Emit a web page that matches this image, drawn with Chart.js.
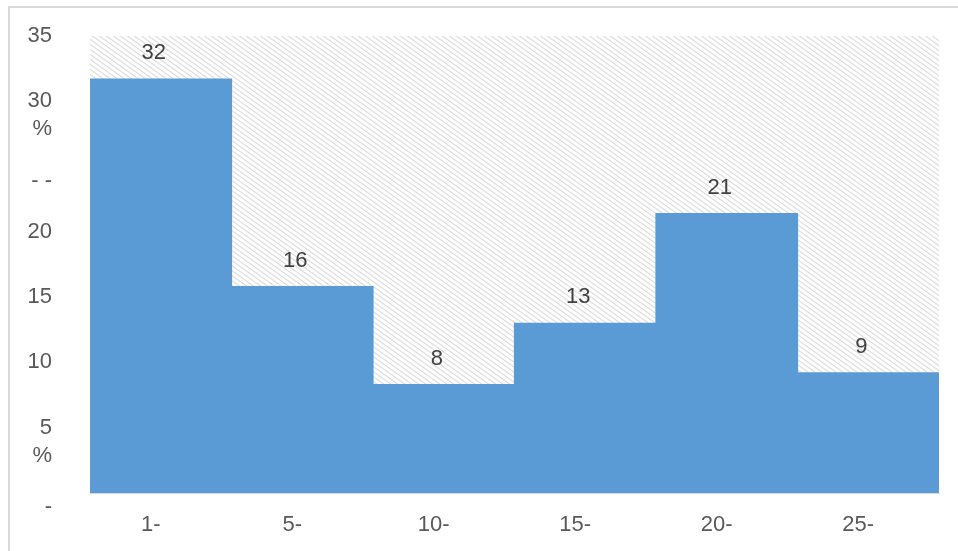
<!DOCTYPE html>
<html>
<head>
<meta charset="utf-8">
<script src="https://cdn.jsdelivr.net/npm/chart.js@4/dist/chart.umd.min.js"></script>
<style>
    html, body { margin: 0; padding: 0; background: #fff; overflow: hidden; }
    #frame {
        position: absolute; left: 8px; top: 6px;
        width: 1200px; height: 800px;
        border-left: 2px solid #d9d9d9;
        border-top: 2px solid #d9d9d9;
    }
    #grafico { position: absolute; left: 0; top: 0; }
</style>
</head>
<body>
<div id="frame"></div>
<canvas id="grafico" width="958" height="551"></canvas>
<script>
const faixas = ['1-', '5-', '10-', '15-', '20-', '25-'];
const percentuais = [31.7, 15.8, 8.3, 13.0, 21.4, 9.2];
const rotulosY = [['', '-'], ['', '5', '%'], '10', '15', '20', ['', '- -'], ['', '30', '%'], '35'];

function criarHachura() {
    const tile = document.createElement('canvas');
    tile.width = 7;
    tile.height = 5;
    const t = tile.getContext('2d');
    t.fillStyle = '#ffffff';
    t.fillRect(0, 0, 7, 5);
    t.strokeStyle = '#dedede';
    t.lineWidth = 1.2;
    t.beginPath();
    t.moveTo(-7, -5); t.lineTo(14, 10);
    t.moveTo(-7, 0); t.lineTo(7, 10);
    t.moveTo(0, -5); t.lineTo(14, 5);
    t.stroke();
    return t.createPattern(tile, 'repeat');
}

const fundoHachurado = {
    id: 'fundoHachurado',
    beforeDatasetsDraw(chart) {
        const { ctx, chartArea } = chart;
        ctx.save();
        ctx.fillStyle = criarHachura();
        ctx.fillRect(chartArea.left, chartArea.top,
            chartArea.right - chartArea.left, chartArea.bottom - chartArea.top);
        ctx.restore();
    }
};

const rotulosBarras = {
    id: 'rotulosBarras',
    afterDatasetsDraw(chart) {
        const ctx = chart.ctx;
        const meta = chart.getDatasetMeta(0);
        ctx.save();
        ctx.font = '22px "Liberation Sans", Arial, sans-serif';
        ctx.fillStyle = '#404040';
        ctx.textAlign = 'center';
        ctx.textBaseline = 'middle';
        meta.data.forEach((bar, i) => {
            ctx.fillText(Math.round(percentuais[i]), bar.x - 7, bar.y - 26);
        });
        ctx.restore();
    }
};

new Chart(document.getElementById('grafico').getContext('2d'), {
    type: 'bar',
    data: {
        labels: faixas,
        datasets: [{
            data: percentuais,
            backgroundColor: '#5B9BD5',
            borderWidth: 0,
            inflateAmount: 0.6,
            categoryPercentage: 1,
            barPercentage: 1
        }]
    },
    options: {
        responsive: false,
        animation: false,
        layout: { padding: { top: 36, right: 19, bottom: 0, left: 0 } },
        plugins: {
            legend: { display: false },
            tooltip: { enabled: false }
        },
        scales: {
            x: {
                grid: { display: false, drawTicks: false },
                border: { display: true, color: '#d9d9d9', width: 1 },
                ticks: {
                    color: '#595959',
                    font: { family: '"Liberation Sans", Arial, sans-serif', size: 22 },
                    padding: 19,
                    labelOffset: -10,
                    maxRotation: 0,
                    autoSkip: false
                },
                afterFit(scale) {
                    scale.height = 58;
                    scale.paddingLeft = 0;
                    scale.paddingRight = 0;
                }
            },
            y: {
                min: 0,
                max: 35,
                grid: { display: false, drawTicks: false },
                border: { display: false },
                ticks: {
                    stepSize: 5,
                    autoSkip: false,
                    color: '#595959',
                    font: { family: '"Liberation Sans", Arial, sans-serif', size: 22, lineHeight: '28px' },
                    padding: 38,
                    callback: (valor, index) => rotulosY[index]
                },
                afterFit(scale) {
                    scale.width = 90;
                    scale.paddingTop = 0;
                    scale.paddingBottom = 0;
                }
            }
        }
    },
    plugins: [fundoHachurado, rotulosBarras]
});
</script>
</body>
</html>
